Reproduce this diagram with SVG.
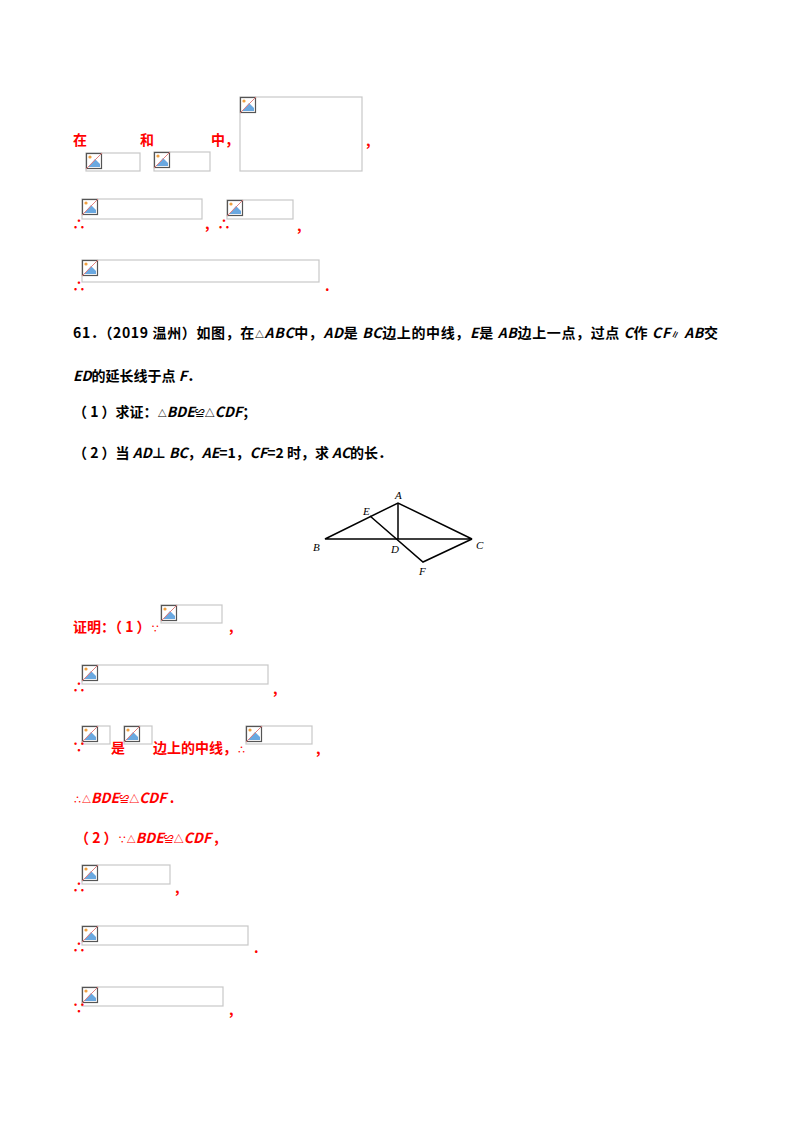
<svg xmlns="http://www.w3.org/2000/svg" width="800" height="1132" viewBox="0 0 800 1132">
<style>
.r{fill:#ff0000;font-family:"Noto Sans CJK SC",sans-serif;font-weight:bold;font-size:14px}
.k{fill:#000;font-family:"Noto Sans CJK SC",sans-serif;font-weight:bold;font-size:14px}
.i{font-style:italic}
.ph{fill:#fff;stroke:#c8c8c8;stroke-width:1.2}
.l{font-family:"Liberation Serif",serif;font-style:italic;font-size:11px;fill:#000}
.g{stroke:#000;stroke-width:1.5;fill:none}
</style>
<defs>
<g id="ic">
<rect x="0.5" y="0.5" width="15" height="15" fill="#fff" stroke="#555" stroke-width="1.2"/>
<circle cx="4" cy="4" r="1.6" fill="#f0a040"/>
<path d="M2 14 L9 6 L14 11 L14 14 Z" fill="#6aa8e0"/>
<line x1="0" y1="16" x2="16" y2="0" stroke="#e08080" stroke-width="1"/>
</g>
</defs>
<rect width="800" height="1132" fill="#fff"/>
<g id="placeholders">
<rect class="ph" x="240" y="97" width="122" height="74"/><use href="#ic" x="240" y="97"/>
<rect class="ph" x="86" y="153" width="54" height="18"/><use href="#ic" x="86" y="153"/>
<rect class="ph" x="154" y="152" width="56" height="19"/><use href="#ic" x="154" y="152"/>
<rect class="ph" x="82" y="199" width="120" height="20"/><use href="#ic" x="82" y="199"/>
<rect class="ph" x="227" y="200" width="66" height="19"/><use href="#ic" x="227" y="200"/>
<rect class="ph" x="82" y="260" width="237" height="22"/><use href="#ic" x="82" y="260"/>
<rect class="ph" x="161" y="605" width="61" height="18"/><use href="#ic" x="161" y="605"/>
<rect class="ph" x="82" y="665" width="186" height="19"/><use href="#ic" x="82" y="665"/>
<rect class="ph" x="82" y="726" width="28" height="18"/><use href="#ic" x="82" y="726"/>
<rect class="ph" x="124" y="726" width="28" height="18"/><use href="#ic" x="124" y="726"/>
<rect class="ph" x="246" y="726" width="66" height="18"/><use href="#ic" x="246" y="726"/>
<rect class="ph" x="82" y="865" width="88" height="19"/><use href="#ic" x="82" y="865"/>
<rect class="ph" x="82" y="926" width="166" height="19"/><use href="#ic" x="82" y="926"/>
<rect class="ph" x="82" y="987" width="141" height="19"/><use href="#ic" x="82" y="987"/>
</g>
<g id="red-text">
<text class="r" x="73" y="145">在</text>
<text class="r" x="140" y="145">和</text>
<text class="r" x="211" y="145">中，</text>
<text class="r" x="366" y="146">,</text>
<text class="r" x="72" y="229" font-size="9">∴</text>
<text class="r" x="205" y="229">,</text>
<text class="r" x="217" y="229" font-size="9">∴</text>
<text class="r" x="297" y="231">,</text>
<text class="r" x="72" y="291" font-size="9">∴</text>
<text class="r" x="325" y="291">.</text>
<text class="r" x="73" y="632">证明：（ 1 ）<tspan font-size="9">∵</tspan></text>
<text class="r" x="229" y="632">,</text>
<text class="r" x="72" y="692" font-size="9">∴</text>
<text class="r" x="273" y="694">,</text>
<text class="r" x="72" y="752" font-size="9">∵</text>
<text class="r" x="111" y="753">是</text>
<text class="r" x="153" y="753">边上的中线，<tspan font-size="9">∴</tspan></text>
<text class="r" x="316" y="754">,</text>
<text class="r" x="73" y="803"><tspan font-size="9">∴△</tspan><tspan class="i">BDE</tspan><tspan font-size="10">≌△</tspan><tspan class="i">CDF</tspan> .</text>
<text class="r" x="75" y="843">（ 2 ）<tspan font-size="9">∵△</tspan><tspan class="i">BDE</tspan><tspan font-size="10">≌△</tspan><tspan class="i">CDF</tspan> ,</text>
<text class="r" x="72" y="892" font-size="9">∴</text>
<text class="r" x="175" y="893">,</text>
<text class="r" x="72" y="952" font-size="9">∴</text>
<text class="r" x="254" y="953">.</text>
<text class="r" x="72" y="1013" font-size="9">∵</text>
<text class="r" x="229" y="1015">,</text>
</g>
<g id="problem-text">
<text class="k" x="73" y="338" textLength="645" lengthAdjust="spacing">61．（2019 温州）如图，在<tspan font-size="9">△</tspan><tspan class="i">ABC</tspan>中，<tspan class="i">AD</tspan>是 <tspan class="i">BC</tspan>边上的中线，<tspan class="i">E</tspan>是 <tspan class="i">AB</tspan>边上一点，过点 <tspan class="i">C</tspan>作 <tspan class="i">CF</tspan><tspan font-size="9">∥</tspan> <tspan class="i">AB</tspan>交</text>
<text class="k" x="73" y="381"><tspan class="i">ED</tspan>的延长线于点 <tspan class="i">F</tspan>．</text>
<text class="k" x="73" y="417">（ 1 ）求证：<tspan font-size="9">△</tspan><tspan class="i">BDE</tspan><tspan font-size="10">≌△</tspan><tspan class="i">CDF</tspan>；</text>
<text class="k" x="73" y="458">（ 2 ）当 <tspan class="i">AD</tspan>⊥ <tspan class="i">BC</tspan>，<tspan class="i">AE</tspan>=1，<tspan class="i">CF</tspan>=2 时，求 <tspan class="i">AC</tspan>的长．</text>
</g>
<g id="figure">
<path class="g" d="M325 539 L398 503 L472 539 Z"/>
<line class="g" x1="398" y1="503" x2="398" y2="539"/>
<path class="g" d="M370 516 L423 562 L472 539"/>
<text class="l" x="395" y="499">A</text>
<text class="l" x="363" y="515">E</text>
<text class="l" x="313" y="551">B</text>
<text class="l" x="391" y="553">D</text>
<text class="l" x="476" y="549">C</text>
<text class="l" x="419" y="575">F</text>
</g>
</svg>
